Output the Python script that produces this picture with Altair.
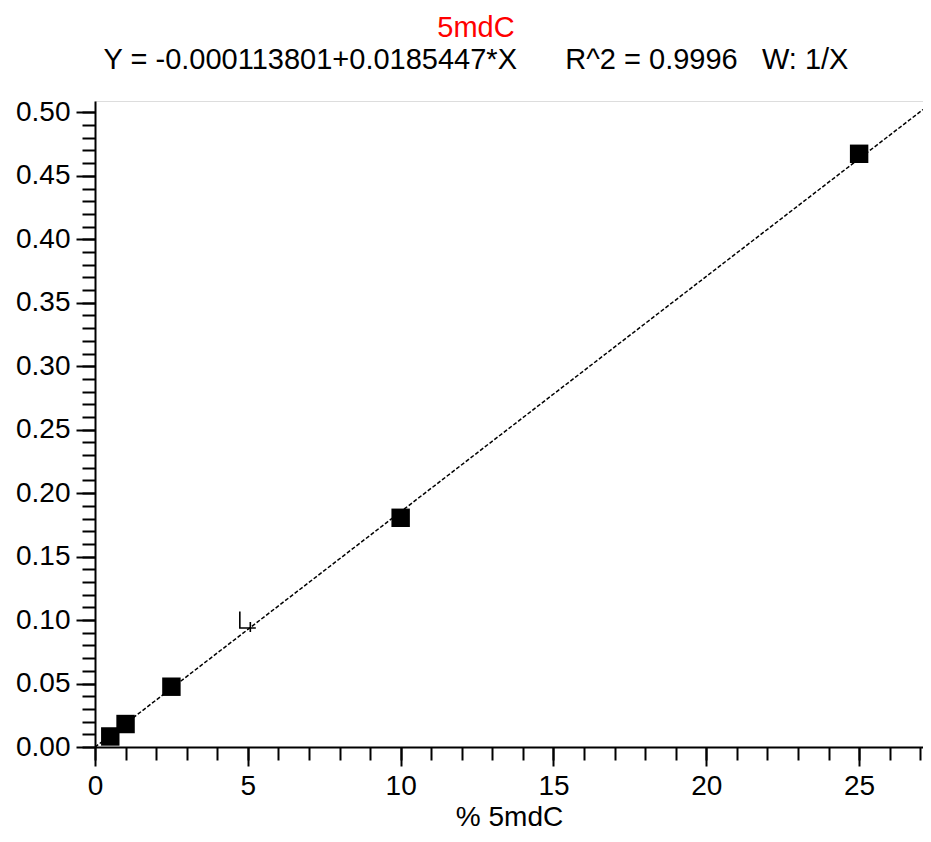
import altair as alt
import pandas as pd

# Calibration points
conc = [0.5, 1.0, 2.5, 10.0, 25.0]
ratio = [0.0083, 0.0181, 0.0475, 0.1806, 0.4674]

# Excluded / flagged point
flag_x = [5.0]
flag_y = [0.0989]

# Regression line (coefficients from the title)
intercept = -0.000113801
slope = 0.0185447
line_x = [0.0, 27.09]

x_major = [0, 5, 10, 15, 20, 25]
x_minor = list(range(0, 28))
y_major = [round(0.05 * i, 2) for i in range(11)]
y_minor = [round(0.01 * i, 2) for i in range(51)]

X_DOMAIN = [0, 27.09]
Y_DOMAIN = [0, 0.509]
FONT = "Liberation Sans"

pts = pd.DataFrame({"x": conc, "y": ratio})
flag = pd.DataFrame({"x": flag_x, "y": flag_y})
ln = pd.DataFrame({"x": line_x})

xs = alt.Scale(domain=X_DOMAIN, nice=False, zero=False)
ys = alt.Scale(domain=Y_DOMAIN, nice=False, zero=False)

ax_style = dict(domainColor="black", domainWidth=2, tickColor="black", tickWidth=2,
                grid=False, labelFont=FONT, labelColor="black", titleFont=FONT,
                titleColor="black", titleFontWeight="normal")

x_main = alt.Axis(values=x_major, tickSize=19, labelFontSize=28, labelPadding=6,
                  title="% 5mdC", titleFontSize=28, titlePadding=3, orient="bottom",
                  labelFlush=False, **ax_style)
y_main = alt.Axis(values=y_major, tickSize=19, labelFontSize=28, labelPadding=6,
                  format=".2f", title=None, orient="left", labelFlush=False, **ax_style)

x_min = alt.Axis(values=x_minor, tickSize=13, labels=False, domain=False, title=None,
                 orient="bottom", tickColor="black", tickWidth=2, grid=False)
y_min = alt.Axis(values=y_minor, tickSize=13, labels=False, domain=False, title=None,
                 orient="left", tickColor="black", tickWidth=2, grid=False)

line = alt.Chart(ln).transform_calculate(
    y=f"{intercept} + {slope} * datum.x"
).mark_line(color="black", strokeWidth=1.5, strokeDash=[4, 2], clip=True).encode(
    x=alt.X("x:Q", scale=xs, axis=x_min),
    y=alt.Y("y:Q", scale=ys, axis=y_min),
)

points = alt.Chart(pts).mark_point(shape="square", filled=True, color="black",
                                   opacity=1, size=340).encode(
    x=alt.X("x:Q", scale=xs, axis=x_main),
    y=alt.Y("y:Q", scale=ys, axis=y_main),
)

flagpt = alt.Chart(flag).mark_point(
    shape="M -0.8 -1 L -0.8 0.65 L 0.8 0.65 M 0.25 0.05 L 0.25 1.05",
    filled=False, color="black", strokeWidth=1.6, size=400, opacity=1
).encode(
    x=alt.X("x:Q", scale=xs, axis=None),
    y=alt.Y("y:Q", scale=ys, axis=None),
)

nb = "\u00a0"
eq = f"Y = -0.000113801+0.0185447*X{nb*6}R^2 = 0.9996{nb*3}W: 1/X"

chart = alt.layer(line, points, flagpt).resolve_axis(x="independent", y="independent").properties(
    width=828, height=646,
    padding={"left": 87, "top": 93, "right": 0, "bottom": 87},
    autosize=alt.AutoSizeParams(type="none"),
    title=alt.TitleParams(text="5mdC", subtitle=eq, color="red", subtitleColor="black",
                          font=FONT, subtitleFont=FONT, fontSize=29, subtitleFontSize=29,
                          fontWeight="normal", anchor="middle", dx=-33, offset=23,
                          subtitlePadding=3),
).configure_view(stroke=None).configure(background="white")

chart.save("out.html", embed_options={"renderer": "svg", "actions": False})
